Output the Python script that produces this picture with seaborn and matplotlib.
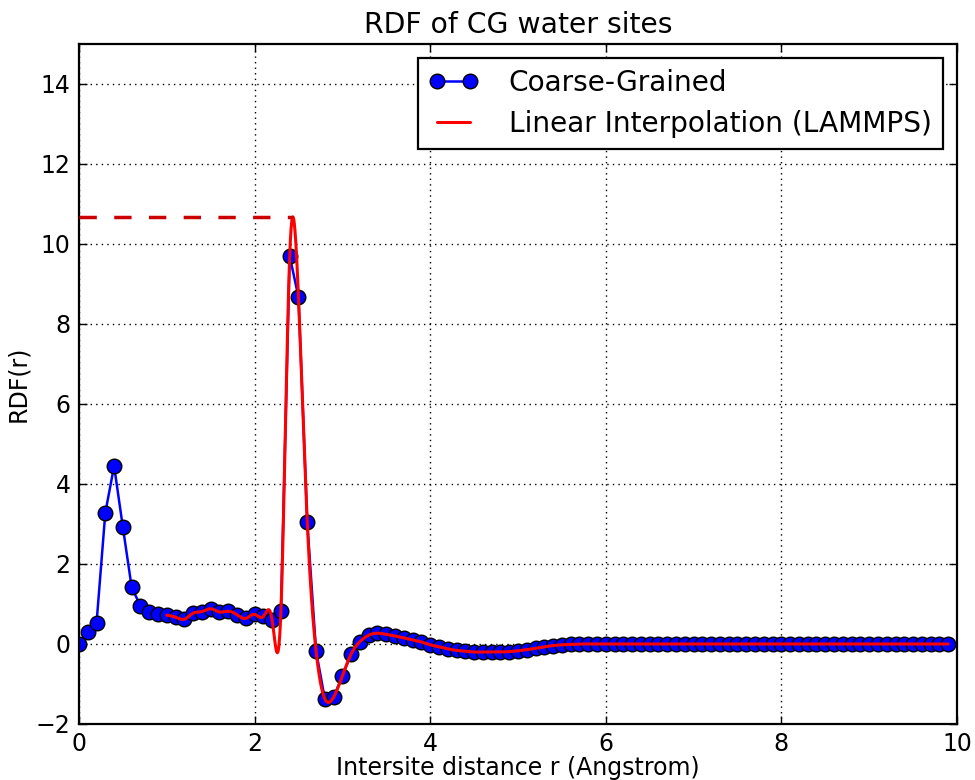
import numpy as np
import pandas as pd
import matplotlib
matplotlib.use("Agg")
import matplotlib.pyplot as plt
import seaborn as sns

# ---- data ----
r_values = np.round(np.arange(0, 100) * 0.1, 1)
rdf_values = [
    0.00, 0.29, 0.52, 3.28, 4.45, 2.92, 1.42, 0.95, 0.80, 0.75,
    0.72, 0.67, 0.62, 0.77, 0.81, 0.88, 0.80, 0.82, 0.73, 0.64,
    0.74, 0.69, 0.60, 0.82, 9.70, 8.67, 3.05, -0.17, -1.37, -1.33,
    -0.80, -0.25, 0.06, 0.22, 0.27, 0.24, 0.20, 0.15, 0.10, 0.05,
    -0.02, -0.07, -0.12, -0.16, -0.18, -0.20, -0.20, -0.20, -0.20, -0.19,
    -0.17, -0.14, -0.11, -0.07, -0.04, -0.02, -0.01, 0.00, 0.00, 0.00,
] + [0.0] * 40
interp_start = 1.0
title_text = "RDF of CG water sites"
xlabel_text = "Intersite distance r (Angstrom)"
ylabel_text = "RDF(r)"
series_names = ["Coarse-Grained", "Linear Interpolation (LAMMPS)"]


def natural_cubic_spline(x, y, xs):
    x = np.asarray(x, float)
    y = np.asarray(y, float)
    n = len(x)
    h = np.diff(x)
    A = np.zeros((n, n))
    b = np.zeros(n)
    A[0, 0] = 1.0
    A[-1, -1] = 1.0
    for i in range(1, n - 1):
        A[i, i - 1] = h[i - 1]
        A[i, i] = 2 * (h[i - 1] + h[i])
        A[i, i + 1] = h[i]
        b[i] = 3 * ((y[i + 1] - y[i]) / h[i] - (y[i] - y[i - 1]) / h[i - 1])
    c = np.linalg.solve(A, b)
    bb = (y[1:] - y[:-1]) / h - h * (2 * c[:-1] + c[1:]) / 3
    d = (c[1:] - c[:-1]) / (3 * h)
    idx = np.clip(np.searchsorted(x, xs) - 1, 0, n - 2)
    t = xs - x[idx]
    return y[idx] + bb[idx] * t + c[idx] * t ** 2 + d[idx] * t ** 3


df_cg = pd.DataFrame({"r": r_values, "rdf": rdf_values})
r_fine = np.linspace(interp_start, r_values[-1], 2000)
df_interp = pd.DataFrame({"r": r_fine,
                          "rdf": natural_cubic_spline(r_values, rdf_values, r_fine)})
peak_i = int(np.argmax(df_interp["rdf"].values))
peak_r = df_interp["r"].values[peak_i]
peak_v = df_interp["rdf"].values[peak_i]

sns.set_theme(style="white")
plt.rcParams["font.family"] = ["DejaVu Sans"]
plt.rcParams["text.color"] = "black"
plt.rcParams["axes.labelcolor"] = "black"
plt.rcParams["xtick.color"] = "black"
plt.rcParams["ytick.color"] = "black"

fig = plt.figure(figsize=(9.75, 7.8), dpi=100)
ax = fig.add_axes([0.081, 0.0718, 0.9005, 0.8718])

sns.lineplot(data=df_cg, x="r", y="rdf", ax=ax, color="blue", lw=1.8,
             marker="o", markersize=10.5, markerfacecolor="blue",
             markeredgecolor="black", markeredgewidth=1.0,
             label=series_names[0], zorder=2)
sns.lineplot(data=df_interp, x="r", y="rdf", ax=ax, color="red", lw=2.2,
             label=series_names[1], zorder=3)
ax.plot([0, peak_r], [peak_v, peak_v], color="#cc0000", lw=2.5,
        linestyle=(0, (5, 5)), zorder=3)

ax.set_xlim(0, 10)
ax.set_ylim(-2, 15)
ax.set_xticks(np.arange(0, 11, 2))
ax.set_yticks(np.arange(-2, 15, 2))
ax.grid(True, color="black", linestyle=(0, (1, 3)), lw=1.0)
for s in ax.spines.values():
    s.set_color("black")
    s.set_linewidth(1.6)
ax.tick_params(direction="in", length=6, width=1, colors="black",
               labelsize=17, pad=6, top=True, right=True,
               bottom=True, left=True)
ax.set_title(title_text, fontsize=20.3, pad=8, color="black")
ax.set_xlabel(xlabel_text, fontsize=17, labelpad=0)
ax.set_ylabel(ylabel_text, fontsize=17, labelpad=4)

leg = ax.legend(loc="upper right", fontsize=20.2, numpoints=2, fancybox=False,
                framealpha=1, edgecolor="black", borderaxespad=0.5,
                handlelength=1.75, handletextpad=1.1, borderpad=0.4,
                labelspacing=0.45)
leg.get_frame().set_linewidth(1.6)
for t in leg.get_texts():
    t.set_color("black")

fig.savefig("out.png", dpi=100)
